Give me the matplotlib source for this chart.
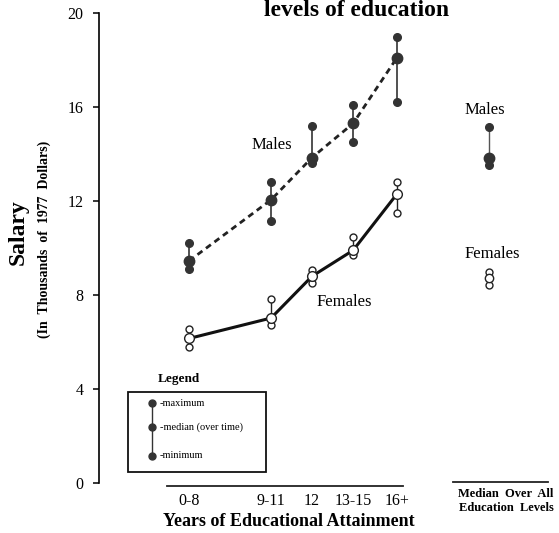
import matplotlib
matplotlib.use("Agg")
import matplotlib.pyplot as plt
from matplotlib.patches import Rectangle
from matplotlib.lines import Line2D

plt.rcParams['font.family'] = ['Liberation Serif', 'DejaVu Serif']

# Salary (thousands of 1977 dollars) by years of educational attainment
categories = ["0-8", "9-11", "12", "13-15", "16+"]
male_max = [10.2, 12.8, 15.2, 16.1, 19.0]
male_median = [9.45, 12.05, 13.85, 15.3, 18.1]
male_min = [9.1, 11.15, 13.6, 14.5, 16.2]
female_max = [6.55, 7.83, 9.05, 10.45, 12.8]
female_median = [6.15, 7.02, 8.8, 9.9, 12.3]
female_min = [5.78, 6.72, 8.5, 9.7, 11.5]

# Median over all education levels
overall_labels = ["Median  Over  All", "Education  Levels"]
male_all = {"max": 15.15, "median": 13.83, "min": 13.53}
female_all = {"max": 8.98, "median": 8.72, "min": 8.43}

y_ticks = [0, 4, 8, 12, 16, 20]

# horizontal placement of the groups (category spacing on the axis)
xpos = [0.0, 2.0, 3.0, 4.0, 5.07]
xall = 7.32

W, H = 559, 533
fig = plt.figure(figsize=(W / 100, H / 100), dpi=100)
fig.patch.set_facecolor("white")


def fx(px):
    return px / W


def fy(py):
    return 1 - py / H


ax = fig.add_axes([fx(99), fy(483), fx(559) - fx(99), fy(13) - fy(483)])
ax.set_xlim(-2.195, 9.02)
ax.set_ylim(0, 20)
for s in ["top", "right", "bottom"]:
    ax.spines[s].set_visible(False)
ax.spines["left"].set_linewidth(1.2)
ax.set_yticks(y_ticks)
ax.set_yticklabels([str(v) for v in y_ticks], fontsize=11.5)
ax.tick_params(axis="y", direction="out", length=4, width=1.1, pad=7)
ax.set_xticks(xpos)
ax.set_xticklabels(categories, fontsize=11.5)
ax.tick_params(axis="x", length=0, pad=7)

mcol = "#333333"

# Males: range bars, medians and dashed connecting line
for x, lo, hi in zip(xpos, male_min, male_max):
    ax.plot([x, x], [lo, hi], color=mcol, lw=1.2, zorder=2)
ax.plot(xpos, male_median, color="#222222", lw=2.0, ls=(0, (2.2, 1.6)), zorder=1)
ax.plot(xpos, male_max, "o", color=mcol, ms=5.5, zorder=3)
ax.plot(xpos, male_min, "o", color=mcol, ms=5.5, zorder=3)
ax.plot(xpos, male_median, "o", color=mcol, ms=7.5, zorder=4)

# Females: open circles and solid connecting line
for x, lo, hi in zip(xpos, female_min, female_max):
    ax.plot([x, x], [lo, hi], color="#222222", lw=1.0, zorder=2)
ax.plot(xpos, female_median, color="#111111", lw=2.2, zorder=1)
ax.plot(xpos, female_max, "o", mfc="white", mec="#222222", mew=1.0, ms=5, zorder=3)
ax.plot(xpos, female_min, "o", mfc="white", mec="#222222", mew=1.0, ms=5, zorder=3)
ax.plot(xpos, female_median, "o", mfc="white", mec="#222222", mew=1.0, ms=7, zorder=4)

# Overall medians
ax.plot([xall, xall], [male_all["min"], male_all["max"]], color="#555555", lw=1.0)
ax.plot([xall] * 2, [male_all["max"], male_all["min"]], "o", color=mcol, ms=5.5, zorder=3)
ax.plot([xall], [male_all["median"]], "o", color=mcol, ms=7.5, zorder=4)
ax.plot([xall, xall], [female_all["min"], female_all["max"]], color="#222222", lw=1.0)
ax.plot([xall] * 2, [female_all["max"], female_all["min"]], "o", mfc="white",
        mec="#222222", mew=1.0, ms=5, zorder=3)
ax.plot([xall], [female_all["median"]], "o", mfc="white", mec="#222222",
        mew=1.0, ms=6, zorder=4)

# Series labels
ax.text(fx(272), fy(145), "Males", transform=fig.transFigure, fontsize=12,
        ha="center", va="center")
ax.text(fx(485), fy(110), "Males", transform=fig.transFigure, fontsize=12,
        ha="center", va="center")
ax.text(fx(344), fy(302), "Females", transform=fig.transFigure, fontsize=12,
        ha="center", va="center")
ax.text(fx(492), fy(254), "Females", transform=fig.transFigure, fontsize=12,
        ha="center", va="center")

# Baselines under the two groups of columns
fig.add_artist(Line2D([fx(167), fx(403)], [fy(485.5), fy(485.5)], color="#222222", lw=1.3))
fig.add_artist(Line2D([fx(453), fx(548)], [fy(482), fy(482)], color="#222222", lw=1.3))

fig.text(fx(506), fy(494), overall_labels[0], fontsize=9, fontweight="bold",
         ha="center", va="center")
fig.text(fx(506), fy(508), overall_labels[1], fontsize=9, fontweight="bold",
         ha="center", va="center")

# Axis titles
fig.text(fx(289), fy(522), "Years of Educational Attainment", fontsize=13,
         fontweight="bold", ha="center", va="center")
fig.text(fx(18), fy(232), "Salary", fontsize=17, fontweight="bold",
         rotation=90, ha="center", va="center")
fig.text(fx(44), fy(239), "(In  Thousands  of  1977  Dollars)", fontsize=10,
         fontweight="bold", rotation=90, ha="center", va="center")

# Title (second line)
fig.text(fx(357), fy(16), "levels of education", fontsize=17,
         fontweight="bold", ha="center", va="baseline")

# Legend box
fig.text(fx(179), fy(379), "Legend", fontsize=9.5, fontweight="bold",
         ha="center", va="center")
fig.add_artist(Rectangle((fx(128), fy(472)), fx(266) - fx(128), fy(392) - fy(472),
                         fill=False, ec="#111111", lw=1.3, transform=fig.transFigure))
leg_y = [403, 427, 456]
leg_txt = ["-maximum", "-median (over time)", "-minimum"]
fig.add_artist(Line2D([fx(152), fx(152)], [fy(leg_y[0]), fy(leg_y[2])],
                      color="#333333", lw=1.0))
for py, t in zip(leg_y, leg_txt):
    fig.add_artist(Line2D([fx(152)], [fy(py)], marker="o", color=mcol, ms=5,
                          ls="none"))
    fig.text(fx(160), fy(py), t, fontsize=7.5, ha="left", va="center")

fig.savefig("out.png", dpi=100, facecolor="white")
